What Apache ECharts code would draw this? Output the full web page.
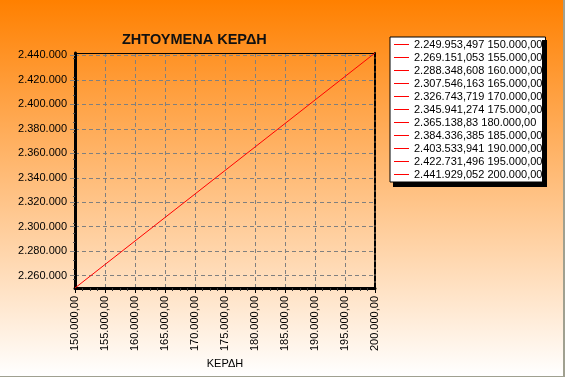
<!DOCTYPE html>
<html>
<head>
<meta charset="utf-8">
<script src="https://cdn.jsdelivr.net/npm/echarts@6/dist/echarts.min.js"></script>
<style>
  html, body { margin: 0; padding: 0; background: #a0a090; }
  #main { width: 563px; height: 376px; }
  /* hard drop shadow of the legend box */
  .shade { position: absolute; background: #000; pointer-events: none; }
</style>
</head>
<body>
<div id="main"></div>
<div class="shade" style="left:542px;top:40px;width:5px;height:147px"></div>
<div class="shade" style="left:393px;top:182px;width:154px;height:5px"></div>
<script>
// κέρδη (x) και ζητούμενα κέρδη (y)
const profits = [150000, 155000, 160000, 165000, 170000, 175000, 180000, 185000, 190000, 195000, 200000]
const targets = [2249953.497, 2269151.053, 2288348.608, 2307546.163, 2326743.719, 2345941.274,
  2365138.83, 2384336.385, 2403533.941, 2422731.496, 2441929.052]
const yTicks = [2260000, 2280000, 2300000, 2320000, 2340000, 2360000, 2380000, 2400000, 2420000, 2440000]

const FONT = '"Liberation Sans", Arial, sans-serif'

function groupInt(v) {
  return String(Math.round(v)).replace(/\B(?=(\d{3})+(?!\d))/g, '.')
}
function fmtY(v) {
  const parts = v.toFixed(3).split('.')
  const dec = parts[1].replace(/0+$/, '')
  return groupInt(Number(parts[0])) + (dec ? ',' + dec : '')
}
function fmtX(v) {
  return groupInt(v) + ',00'
}

const names = profits.map((x, i) => fmtY(targets[i]) + ' ' + fmtX(x))
const points = profits.map((x, i) => [x, targets[i]])

const series = [{
  name: 'line',
  type: 'line',
  data: points,
  showSymbol: false,
  silent: true,
  lineStyle: { color: '#ff0000', width: 1 },
  itemStyle: { color: '#ff0000' },
}]
// one entry per point for the legend
names.forEach((n, i) => {
  series.push({
    name: n,
    type: 'line',
    data: [points[i]],
    showSymbol: false,
    silent: true,
    lineStyle: { color: '#ff0000', width: 1 },
    itemStyle: { color: '#ff0000' },
  })
})

const chart = echarts.init(document.getElementById('main'))
chart.setOption({
  animation: false,
  backgroundColor: {
    type: 'linear', x: 0, y: 0, x2: 0, y2: 1,
    colorStops: [{ offset: 0, color: '#ff8000' }, { offset: 1, color: '#ffffff' }],
  },
  title: {
    text: 'ΖΗΤΟΥΜΕΝΑ ΚΕΡΔΗ',
    left: 122,
    top: 32,
    padding: 0,
    textStyle: { fontFamily: FONT, fontSize: 14.5, fontWeight: 'bold', color: '#111' },
  },
  legend: {
    data: names,
    orient: 'vertical',
    left: 390,
    top: 37,
    padding: [1, 3, 1, 4],
    itemGap: 0,
    itemWidth: 15,
    itemHeight: 1,
    icon: 'rect',
    selectedMode: false,
    backgroundColor: '#ffffff',
    borderColor: '#000000',
    borderWidth: 1,
    borderRadius: 0,
    textStyle: { fontFamily: FONT, fontSize: 11, color: '#000', lineHeight: 13 },
  },
  grid: { left: 75, top: 53, width: 300, height: 235 },
  xAxis: [{
    type: 'value',
    min: profits[0],
    max: profits[profits.length - 1],
    interval: 5000,
    name: 'ΚΕΡΔΗ',
    nameLocation: 'middle',
    nameGap: 68,
    nameTextStyle: { fontFamily: FONT, fontSize: 11, color: '#000' },
    axisLine: { show: true, lineStyle: { color: '#000', width: 3 } },
    axisTick: { show: true, length: 5, lineStyle: { color: '#000' } },
    minorTick: { show: true, splitNumber: 4, length: 3, lineStyle: { color: '#333' } },
    axisLabel: {
      rotate: 90,
      margin: 8,
      fontFamily: FONT,
      fontSize: 11,
      color: '#000',
      formatter: fmtX,
    },
    splitLine: { show: true, lineStyle: { color: '#808080', type: [4, 3], width: 1 } },
  }, {
    type: 'value',
    position: 'top',
    min: profits[0],
    max: profits[profits.length - 1],
    axisLine: { show: true, lineStyle: { color: '#000', width: 1 } },
    axisTick: { show: false },
    axisLabel: { show: false },
    splitLine: { show: false },
  }],
  yAxis: [{
    type: 'value',
    min: targets[0],
    max: targets[targets.length - 1],
    axisLine: { show: true, lineStyle: { color: '#000', width: 3 } },
    axisTick: { show: true, length: 5, customValues: yTicks, lineStyle: { color: '#808080' } },
    minorTick: { show: true, splitNumber: 4, length: 2, lineStyle: { color: '#555' } },
    axisLabel: {
      customValues: yTicks,
      margin: 8,
      fontFamily: FONT,
      fontSize: 11,
      color: '#000',
      formatter: groupInt,
    },
    splitLine: { show: true, lineStyle: { color: '#808080', type: [4, 3], width: 1 } },
  }, {
    type: 'value',
    position: 'right',
    min: targets[0],
    max: targets[targets.length - 1],
    axisLine: { show: true, lineStyle: { color: '#000', width: 2, type: [5, 2] } },
    axisTick: { show: false },
    axisLabel: { show: false },
    splitLine: { show: false },
  }],
  series: series,
})
</script>
</body>
</html>
